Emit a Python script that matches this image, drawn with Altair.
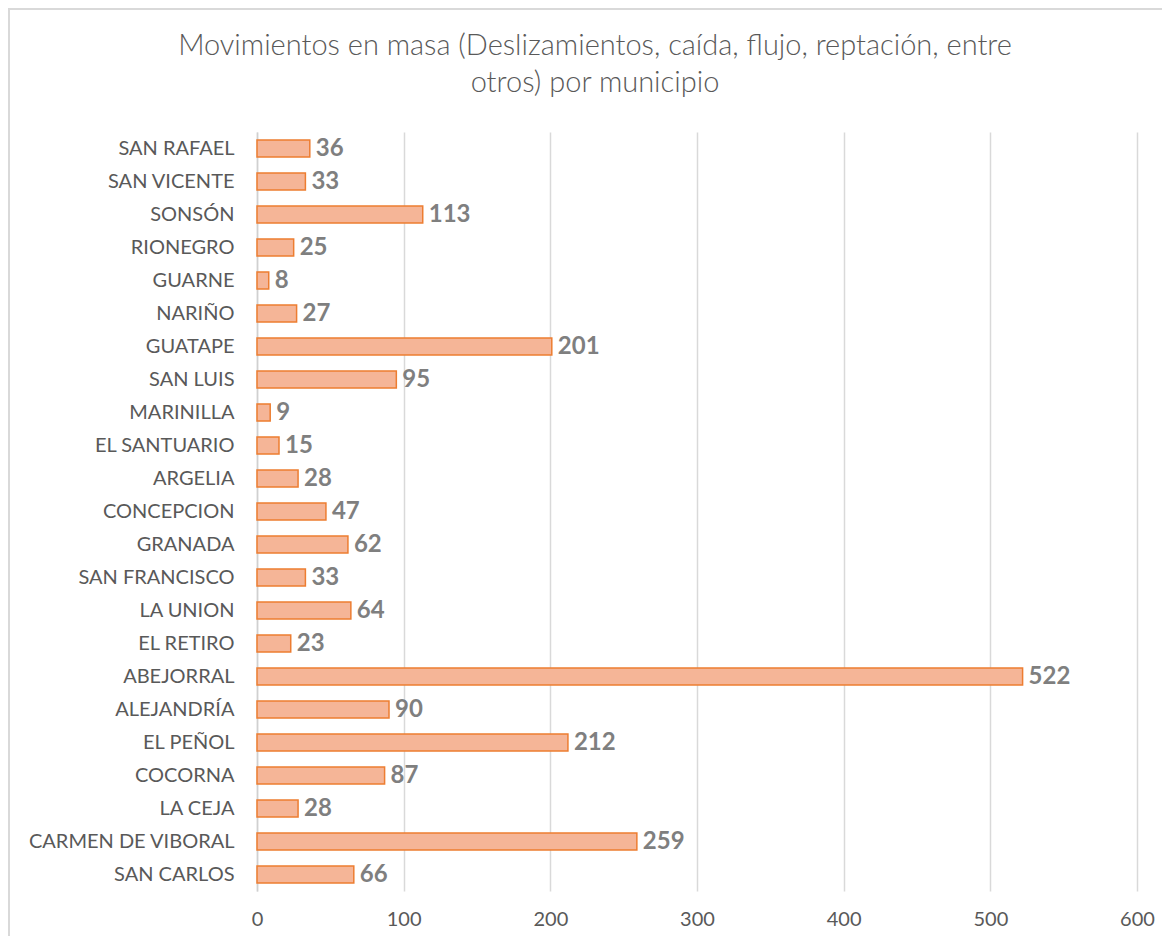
import altair as alt
import pandas as pd

municipios = ["SAN RAFAEL", "SAN VICENTE ", "SONSÓN", "RIONEGRO", "GUARNE", "NARIÑO",
              "GUATAPE", "SAN LUIS", "MARINILLA", "EL SANTUARIO", "ARGELIA", "CONCEPCION",
              "GRANADA", "SAN FRANCISCO", "LA UNION", "EL RETIRO", "ABEJORRAL", "ALEJANDRÍA",
              "EL PEÑOL", "COCORNA", "LA CEJA", "CARMEN DE VIBORAL", "SAN CARLOS"]
valores = [36, 33, 113, 25, 8, 27, 201, 95, 9, 15, 28, 47, 62, 33, 64, 23, 522, 90,
           212, 87, 28, 259, 66]
x_ticks = [0, 100, 200, 300, 400, 500, 600]

df = pd.DataFrame({"municipio": municipios, "valor": valores})

FONT = "Lato"
W, H = 880, 759

y_enc = alt.Y("municipio:N", sort=None, title=None,
              scale=alt.Scale(paddingInner=0.48, paddingOuter=0.24),
              axis=alt.Axis(labelFont=FONT, labelFontSize=20, labelColor="#595959",
                            labelPadding=23, labelLimit=0, ticks=False,
                            domainColor="#D0D0D0", domainWidth=1.5, grid=False))
x_enc = alt.X("valor:Q", title=None,
              scale=alt.Scale(domain=[0, 600], nice=False),
              axis=alt.Axis(values=x_ticks, labelFont=FONT, labelFontSize=20,
                            labelColor="#595959", labelPadding=18, labelFlush=False,
                            ticks=False, domain=False, grid=True, gridColor="#D9D9D9",
                            gridWidth=1.5))

bars = alt.Chart(df).mark_bar(fill="#F5B597", stroke="#ED7D31", strokeWidth=1.5).encode(
    x=x_enc, y=y_enc)

labels = alt.Chart(df).mark_text(align="left", baseline="middle", dx=6, font=FONT,
                                  fontSize=24, fontWeight="bold", color="#7F7F7F").encode(
    x="valor:Q", y=alt.Y("municipio:N", sort=None), text="valor:Q")

frame = alt.Chart(df).mark_rect(fill=None, stroke="#D9D9D9", strokeWidth=1.5).encode(
    x=alt.value(-248), x2=alt.value(W + 60), y=alt.value(-123), y2=alt.value(H + 80))

chart = alt.layer(frame, bars, labels).properties(
    width=W, height=H,
    autosize=alt.AutoSizeParams(type="none"),
    padding={"left": 249, "top": 124, "right": 25, "bottom": 45},
    title=alt.TitleParams(
        text=["Movimientos en masa (Deslizamientos, caída, flujo, reptación, entre",
              "otros) por municipio"],
        font=FONT, fontSize=29, fontWeight=300, color="#595959",
        lineHeight=37, anchor="middle", dx=-102, offset=-90),
).configure_view(stroke=None)

chart.save("out.html", embed_options={"renderer": "svg", "actions": False})
